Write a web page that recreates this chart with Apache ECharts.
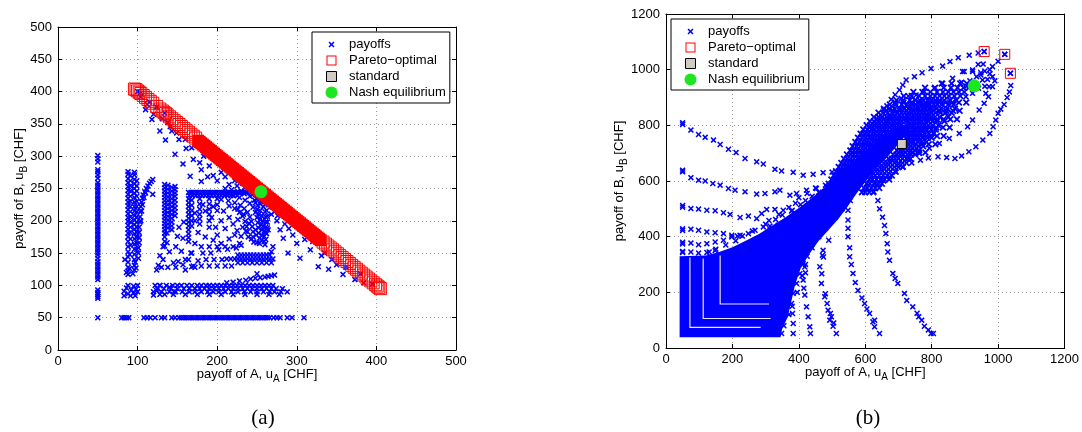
<!DOCTYPE html>
<html><head><meta charset="utf-8">
<script src="https://cdn.jsdelivr.net/npm/echarts/dist/echarts.min.js"></script>
<style>html,body{margin:0;padding:0;background:#fff}#c{width:1082px;height:432px}</style>
</head><body><div id="c"></div>
<script>
const FONT = '"Liberation Sans", Arial, Helvetica, sans-serif';
const BLUE = '#0000ff', RED = '#ff0000', GREEN = '#1ee61e', GREY = '#d0ccc4';

// ---- axes / labels ----
const A_X_TICKS = [0, 100, 200, 300, 400, 500];
const A_Y_TICKS = [0, 50, 100, 150, 200, 250, 300, 350, 400, 450, 500];
const B_X_TICKS = [0, 200, 400, 600, 800, 1000, 1200];
const B_Y_TICKS = [0, 200, 400, 600, 800, 1000, 1200];
const LEGEND_NAMES = ['payoffs', 'Pareto\u2212optimal', 'standard', 'Nash equilibrium'];
const X_NAME = 'payoff of A, u{s|A} [CHF]';
const Y_NAME = 'payoff of B, u{s|B} [CHF]';
const CAPTIONS = ['(a)', '(b)'];

// ---- panel (a) payoffs ----
const A_COL50_Y = [301,296,291,279,276,271,266,259,255,251,247,243,239,235,231,227,223,219,215,211,207,203,199,195,191,187,183,179,175,171,167,163,159,155,151,147,142,137,133,129,125,121,117,113,109,93,89,86,83,80,50];
const A_ROW50_X = [80,83,86,89,108,112,116,122,130,134,143,147,152,155,158,161,164,167,170,173,176,179,182,185,188,191,194,197,200,203,206,209,212,215,218,221,224,227,230,233,236,239,242,245,248,251,254,257,260,263,266,271,275,279,288,294,309];
const A_COL88_Y = [276,272,265,259,253,247,241,235,229,223,217,211,205,199,193,187,181,175,168,160,152,144,136,128,122,117];
const A_COL91_Y = [270,262,254,246,238,230,222,214,206,198,190,182,172,162];
const A_COL96_Y = [275,271,264,257,250,243,236,229,222,215,208,201,194,187,180,172,164,156,148,140,131,124];
const A_COL99_Y = [262,254,246,238,230,222,214,206,198,190,182,174,165,156];
const A_CURVE = [[101,142],[101,150],[101,158],[102,166],[102,174],[102,182],[102,190],[103,198],[103,206],[103,214],[104,222],[105,229],[106,235],[107,240],[109,245],[111,250],[113,254],[115,258],[117,261],[119,264],[104,200],[105,215],[106,225],[108,236],[110,243],[112,248],[119,241]];
const A_LOW_LEFT = [[83,84],[83,91],[86,96],[88,87],[88,100],[91,84],[92,93],[95,88],[95,99],[97,84],[98,94],[100,90],[100,100],[86,120],[90,126],[94,118],[98,127],[84,140],[90,148],[97,136]];
const A_COL134_Y = [256,251,246,241,236,231,226,221,216,211,206,201,196,191,186,181,175,168,161];
const A_COL138_Y = [255,249,243,237,231,225,219,213,207,201,195,189];
const A_COL143_Y = [252,246,240,234,228,222,216,210,204,198,192,186];
const A_COL147_Y = [253,248,243,238,232,226,220,214,208];
const A_SCATTER_MID = [[128,146],[124,124],[132,140],[132,160],[137,166],[137,181],[145,135],[151,137],[157,132],[157,173],[155,153],[164,140],[168,129],[167,150],[126,131],[130,128],[140,152],[148,160],[150,176],[152,190],[158,198],[148,128],[160,124],[172,128],[138,128],[120,85],[124,92],[128,100],[134,86],[140,97],[146,90]];
const A_ARC_TOP_X = [164,167,170,173,176,179,182,185,188,191,194,197,200,203,206,209,212,215,218,221,224,227,230,233,236];
const A_ARC_TOP2_X = [165,169,173,177,181,185,189,193,197,201,205,209,213,217,221,225];
const A_COL164_Y = [234,228,222,216,210,204,198,192,186,180,174,168];
const A_COL168_Y = [232,224,216,208,200,192];
const A_COL178_Y = [234,226,218,210,203];
const A_COL190_Y = [234,226,218,210,200,190];
const A_COL200_Y = [234,225,216];
const A_HOOK = [[210,250],[218,248],[226,245],[234,242],[241,238],[247,232],[251,224],[254,216],[256,208],[257,200],[258,192],[259,184],[259,176],[259,168],
 [212,241],[220,239],[228,236],[235,232],[241,227],[245,221],[248,213],[250,205],[251,197],[252,189],[252,181],[253,173],[253,165],
 [205,233],[214,231],[222,228],[229,224],[234,219],[238,213],[241,206],[243,199],[244,191],[245,183],[245,175],[246,167],
 [215,223],[222,219],[228,213],[232,207],[235,199],[237,191],[238,183],[239,175],
 [215,256],[225,254],[235,251],[243,247],[250,241],[256,233],[260,225],[262,216],[263,207],[263,198],[263,189],[262,180],[261,171],[260,163],
 [222,262],[232,258],[240,254],[248,250],[255,243],[262,236],[266,230],[268,222],[272,214],[276,208]];
const A_HOOK2 = [[255,230],[258,222],[260,214],[261,206],[261,198],[261,190],[261,182],[257,240],[252,236],[248,228],[250,218],[252,210],[254,202],[255,194],[256,186],[256,178],[256,170],[250,166],[243,172],[236,184],[240,196],[233,210],[226,218],[248,186],[249,178],[230,246],[238,244],[244,240],[250,234],[254,226]];
const A_ARC_INNER = [[172,200],[178,195],[185,215],[193,205],[198,190],[205,200],[210,188],[215,205],[220,195],[225,185],[185,175],[195,170],[205,165],[215,172],[222,178],[228,165],[180,160],[190,160],[200,160],[210,160],[220,160],[230,162],[172,165],[176,182],[200,178],[182,225],[195,222],[208,215],[172,212],[226,202],[232,190],[230,176]];
const A_ROW147_X = [226,230,234,238,242,246,250,254,258,262,266];
const A_ROW141_X = [212,217,222,226,230,234,238,242,246,250,254,258,262,266,270];
const A_ROW135_X = [226,232,238,244,250,256,262,268];
const A_SCATTER130 = [[170,130],[180,130],[190,130],[200,130],[210,130],[176,138],[186,140],[196,140],[206,140],[168,150],[182,150],[192,150],[202,155],[213,156],[224,158],[268,152],[218,130],[160,140]];
const A_RISE = [[212,104],[220,105],[228,107],[236,108],[242,110],[248,111],[254,112],[260,113],[264,114],[268,115],[272,116],[250,118]];
const A_ROW100_X = [122,128,136,144,150,155,162,168,175,180,186,190,195,200,205,210,215,220,225,230,235,240,245,250,255,260,265,270];
const A_ROW95_X = [125,133,142,150,158,165,172,178,184,190,196,202,208,214,220,226,232,238,244,250,256,262,268,274,282];
const A_ROW90_X = [120,130,140,148,156,165,172,180,188,195,202,210,218,226,234,242,250,258,266,272,280,288];
const A_ROW86_X = [128,145,160,175,190,205,220,235,250,265,278];
const A_DIAG_UL = [[100,400],[103,397],[110,372],[118,357],[128,339],[135,325],[147,303],[157,288],[166,269],[180,261],[178,290],[168,313],[160,326],[149,336],[141,346],[134,367],[143,339],[152,326],[161,312],[170,295],[180,279],[190,285],[195,270],[183,300],[200,262],[205,275],[188,268],[210,268],[124,376],[104,392],[115,384],[131,358],[138,352],[120,365],[112,380]];
const A_DIAG_LR = [[264,186],[270,160],[279,186],[283,173],[289,150],[295,178],[300,165],[304,142],[310,171],[317,155],[327,129],[331,146],[340,125],[344,140],[358,117],[373,109],[384,104],[275,200],[285,195],[268,210],[278,215],[290,188],[350,132],[362,128],[320,168],[335,150],[380,118],[395,102]];

// ---- panel (a) other series ----
const A_PARETO_ENDS = [[96,404],[98,403],[100,401],[102,399],[104,397],[107,394],[110,391],[113,388],[116,385],[119,382],[124,377],[128,373],[131,370],[133,368],[135,366],[137,364],[140,361],[143,358],[146,355],[149,352],[152,349],[155,346],[158,343],[161,340],[164,337],[167,334],[170,331],[173,328],
 [333,167],[336,164],[339,161],[342,158],[345,155],[348,152],[351,149],[354,146],[357,143],[360,140],[363,137],[366,134],[369,131],[372,128],[375,125],[378,122],[381,119],[384,116],[387,113],[390,110],[393,107],[396,104],[399,101],[401,99],[403,97],[405,95]];
const A_PARETO_BAND = [[176,324],[178,322],[180,320],[182,318],[184,316],[186,314],[188,312],[190,310],[192,308],[194,306],[196,304],[198,302],[200,300],[202,298],[204,296],[206,294],[208,292],[210,290],[212,288],[214,286],[216,284],[218,282],[220,280],[222,278],[224,276],[226,274],[228,272],[230,270],[232,268],[234,266],[236,264],[238,262],[240,260],[242,258],[244,256],[246,254],[248,252],[250,250],[252,248],[254,246],[256,244],[258,242],[260,240],[262,238],[264,236],[266,234],[268,232],[270,230],[272,228],[274,226],[276,224],[278,222],[280,220],[282,218],[284,216],[286,214],[288,212],[290,210],[292,208],[294,206],[296,204],[298,202],[300,200],[302,198],[304,196],[306,194],[308,192],[310,190],[312,188],[314,186],[316,184],[318,182],[320,180],[322,178],[324,176],[326,174],[328,172],[330,170]];
const A_STANDARD = [[250,250]];
const A_NASH = [[255,245]];

// ---- panel (b) payoffs ----
const B_CORE = [[41,39],[41,330],[120,332],[160,345],[200,362],[240,385],[280,410],[320,440],[360,470],[400,503],[440,540],[480,580],[520,620],[560,662],[600,705],[640,745],[680,778],[715,802],[740,808],[735,785],[715,755],[692,722],[668,688],[640,652],[612,614],[588,578],[568,545],[545,505],[520,465],[490,425],[460,385],[430,335],[405,285],[388,225],[376,160],[366,110],[350,70],[345,39]];
const B_GAPS = [
  [[72,325],[72,74],[285,74]],
  [[112,322],[112,106],[315,106]],
  [[163,332],[163,158],[310,158]]
];
const B_TRAIL_808 = [[50,809],[50,803],[75,783],[98,767],[118,757],[143,747],[163,731],[188,714],[211,702],[238,681],[273,669],[293,661],[328,642],[348,636],[383,631],[413,621],[443,624],[473,630],[500,632],[520,630]];
const B_TRAIL_637 = [[50,639],[50,633],[75,612],[98,603],[118,600],[141,591],[163,585],[188,573],[208,567],[238,561],[273,553],[298,555],[328,561],[343,567],[373,549],[393,555],[423,567],[453,573],[480,585]];
const B_TRAIL_510 = [[50,512],[50,506],[75,501],[98,499],[123,495],[148,493],[173,486],[193,480],[223,469],[248,474],[273,465],[288,483],[303,498],[328,498],[353,495],[378,492],[403,483],[420,490]];
const B_TRAIL_425 = [[50,428],[50,422],[75,427],[98,423],[123,417],[148,414],[173,411],[198,405],[223,405],[248,411],[268,423],[293,435],[313,438],[338,441],[363,447]];
const B_TRAIL_378 = [[50,380],[50,374],[75,377],[98,371],[123,375],[148,381],[173,387],[198,399],[215,402]];
const B_TRAIL_345 = [[50,347],[50,343],[75,345],[98,341],[123,343],[148,350]];
const B_TRAIL_L1 = [[413,303],[403,267],[393,232],[383,196],[378,160],[381,124],[383,88],[383,52],[363,243],[358,208],[353,172],[348,130],[348,94],[348,52],[403,315]];
const B_TRAIL_L2 = [[418,291],[413,244],[418,190],[423,148],[428,112],[433,76],[435,52],[425,330],[420,270],[415,215]];
const B_TRAIL_L3 = [[473,351],[471,333],[463,292],[468,232],[478,184],[488,136],[493,100],[503,78],[513,52],[490,387],[474,327],[469,267],[480,195],[495,124],[505,90],[498,112],[485,160]];
const B_TRAIL_L4 = [[543,532],[548,495],[548,460],[548,430],[548,400],[553,360],[553,328],[558,300],[563,268],[570,235],[578,207],[590,180],[598,160],[605,140],[613,124],[623,94],[628,76],[643,52],[628,100]];
const B_TRAIL_L5 = [[626,561],[638,530],[643,500],[652,470],[658,440],[662,411],[666,375],[668,345],[673,315],[683,268],[690,250],[698,232],[718,196],[725,171],[743,148],[756,125],[761,112],[770,100],[778,78],[790,65],[798,52],[805,52]];
const B_TRAIL_U1 = [[640,830],[655,855],[665,870],[678,893],[690,910],[703,927],[713,945],[723,963],[748,975],[771,989],[798,1004],[833,1013],[855,1029],[880,1043],[913,1052],[940,1060],[958,1065]];
const B_TRAIL_U2 = [[630,800],[650,830],[690,880],[708,897],[730,905],[753,909],[778,921],[808,933],[833,951],[863,969],[893,993],[923,999],[948,981],[975,1000],[983,1011],[1000,1030],[1020,1055]];
const B_TRAIL_U3 = [[636,585],[655,600],[673,615],[693,632],[714,651],[740,665],[766,675],[790,683],[819,687],[845,684],[870,681],[890,690],[912,705],[933,723],[954,747],[975,771],[985,795],[993,819],[1000,843],[1008,858],[1018,875],[1027,900],[1034,920],[1038,943],[1037,987]];
const B_TRAIL_U4 = [[700,660],[730,680],[763,699],[793,718],[823,735],[853,753],[883,771],[908,795],[923,819],[943,855],[958,879],[971,903],[983,939],[983,975],[990,960]];
const B_NEAR_NASH = [[940,1019],[948,989],[953,963],[941,933],[923,993],[898,993],[973,939],[963,915],[923,915],[903,903],[960,995],[955,1020],[935,975],[915,960],[890,955],[905,940],[960,940],[968,965],[975,985]];
const B_FUZZ = [[300,445],[330,462],[350,478],[380,495],[405,515],[420,530],[440,545],[460,560],[390,520],[370,505],[340,480],[310,458],[260,420],[230,402],[210,385],[180,370],[150,355],[130,345],[400,540],[425,555],[450,575],
 [440,360],[460,400],[480,430],[510,470],[530,500],[555,530],[420,300],[410,260],[395,200],[380,150],[370,120],[355,80]];
const B_CLOUD_Y = [560,575,590,605,620,635,650,665,680,695,710,725,740,755,770,785,800,815,830,845,860,875,890,905,920,935,950];
const B_CLOUD_X = [
 [478,590,600,612,624],
 [486,496,596,606,618,630,642],
 [490,500,508,604,614,626,638,650],
 [498,507,515,612,622,634,646,658,672],
 [505,514,522,530,620,630,642,654,666,680],
 [512,522,530,538,546,632,642,652,664,676,690],
 [520,530,540,548,556,644,654,664,676,688,700,712],
 [528,538,548,558,566,656,666,676,688,700,712,724],
 [536,546,556,566,576,584,670,680,690,700,712,724,736],
 [545,556,566,576,586,594,684,694,704,714,726,738,750],
 [555,566,576,586,596,606,696,706,716,726,738,750,762],
 [562,574,585,596,606,616,626,708,716,726,736,748,760,774],
 [570,582,594,604,614,624,634,642,718,726,736,746,758,770,784],
 [578,590,602,612,622,632,642,650,658,724,732,742,752,762,774,788,800],
 [586,598,610,620,630,640,650,660,668,676,728,736,746,756,766,778,792,806],
 [594,606,618,628,638,648,658,668,678,688,696,732,742,752,762,772,784,798,812],
 [604,616,628,638,648,658,668,678,688,698,708,738,748,758,768,778,790,804,820],
 [614,626,638,650,660,670,680,690,700,710,720,730,740,750,760,770,780,790,802,816,838],
 [626,640,652,664,676,688,698,708,718,728,738,748,758,768,778,788,798,810,824,850],
 [640,654,668,682,696,708,720,730,740,750,760,770,780,790,800,812,826,842,860],
 [656,672,688,704,718,730,742,752,762,772,782,792,802,814,828,846,870],
 [674,692,710,726,740,752,764,774,784,794,806,818,832,850,866],
 [694,714,734,750,764,776,788,800,812,824,838,856,874],
 [716,740,762,780,796,810,824,838,852,868,886],
 [745,772,796,816,834,850,866,882,898],
 [780,810,836,858,878,896,912],
 [830,860,886,906,924]
];
const B_CLOUD2_Y = [702,732,762,792,822,852,882];
const B_CLOUD2_X = [
 [560,581,601,621,641,661,700,721,741,761,781],
 [578,598,618,638,658,678,713,731,751,771,791,811],
 [596,616,636,656,676,696,716,736,756,776,796,816,836],
 [614,634,654,674,694,714,734,754,774,794,814,834,854],
 [636,656,676,696,716,736,756,776,796,816,836,856,876],
 [662,684,704,724,744,764,784,804,824,844,864,884],
 [690,715,740,762,782,802,822,842,862,882,904]
];
// ---- panel (b) other series ----
const B_PARETO = [[958,1065],[1020,1055],[1037,987]];
const B_STANDARD = [[710,733]];
const B_NASH = [[928,942]];

// ---------- build ----------
const col = (x, ys) => ys.map(y => [x, y]);
const row = (y, xs) => xs.map(x => [x, y]);
const aPayoffs = [].concat(
  col(50, A_COL50_Y), row(50, A_ROW50_X), col(88, A_COL88_Y), col(91, A_COL91_Y), col(96, A_COL96_Y), col(99, A_COL99_Y),
  A_CURVE, A_LOW_LEFT, col(134, A_COL134_Y), col(138, A_COL138_Y), col(143, A_COL143_Y), col(147, A_COL147_Y), A_SCATTER_MID,
  row(244, A_ARC_TOP_X), row(239, A_ARC_TOP2_X), col(164, A_COL164_Y), col(168, A_COL168_Y), col(178, A_COL178_Y), col(190, A_COL190_Y), col(200, A_COL200_Y),
  A_HOOK, A_HOOK2, A_ARC_INNER, row(147, A_ROW147_X), row(141, A_ROW141_X), row(135, A_ROW135_X), A_SCATTER130, A_RISE,
  row(100, A_ROW100_X), row(95, A_ROW95_X), row(90, A_ROW90_X), row(86, A_ROW86_X), A_DIAG_UL, A_DIAG_LR);
let bCloud = [];
B_CLOUD_Y.forEach((y, i) => { bCloud = bCloud.concat(row(y, B_CLOUD_X[i])); });
B_CLOUD2_Y.forEach((y, i) => { bCloud = bCloud.concat(row(y, B_CLOUD2_X[i])); });
const bPayoffs = [].concat(B_TRAIL_808, B_TRAIL_637, B_TRAIL_510, B_TRAIL_425, B_TRAIL_378, B_TRAIL_345,
  B_TRAIL_L1, B_TRAIL_L2, B_TRAIL_L3, B_TRAIL_L4, B_TRAIL_L5, B_TRAIL_U1, B_TRAIL_U2, B_TRAIL_U3, B_TRAIL_U4,
  B_NEAR_NASH, B_FUZZ, B_PARETO);

const X_SYM = 'path://M0,1.8L1.8,0L5,3.2L8.2,0L10,1.8L6.8,5L10,8.2L8.2,10L5,6.8L1.8,10L0,8.2L3.2,5Z';
const LEG_X = 'path://M0,0L0,0M20,20L20,20M5,6.8L6.8,5L10,8.2L13.2,5L15,6.8L11.8,10L15,13.2L13.2,15L10,11.8L6.8,15L5,13.2L8.2,10Z';
const LEG_RING = 'path://M0,0L0,0M12,12L12,12M1,1L11,1L11,11L1,11ZM2,2L2,10L10,10L10,2Z';
const LEG_SQ = 'path://M0,0L0,0M12,12L12,12M1,1L11,1L11,11L1,11Z';
const LEG_CIRC = 'path://M0,6A6,6,0,1,1,12,6A6,6,0,1,1,0,6Z';

const NAME_STYLE = { fontSize: 13, color: '#000', fontFamily: FONT,
  rich: { s: { fontSize: 10, fontFamily: FONT, color: '#000', padding: [10, 0, 0, 0], verticalAlign: 'bottom' } } };

function mkAxes(grid, ticks, isX, name, nameGap, labelMargin) {
  const min = ticks[0], max = ticks[ticks.length - 1], interval = ticks[1] - ticks[0];
  const line = { show: true, onZero: false, lineStyle: { color: '#000', width: 1 } };
  const tick = { show: true, inside: true, length: 4, lineStyle: { color: '#000', width: 1 } };
  const main = { gridIndex: grid, type: 'value', min, max, interval,
    position: isX ? 'bottom' : 'left', name, nameLocation: 'middle', nameGap, nameMoveOverlap: false, nameTextStyle: NAME_STYLE,
    axisLine: line, axisTick: tick,
    axisLabel: { color: '#000', fontSize: 13, fontFamily: FONT, margin: labelMargin, formatter: v => String(v) },
    splitLine: { show: true, lineStyle: { color: '#9a9a9a', width: 1, type: [1, 3] } } };
  const other = { gridIndex: grid, type: 'value', min, max, interval,
    position: isX ? 'top' : 'right', axisLine: line, axisTick: tick,
    axisLabel: { show: false }, splitLine: { show: false } };
  return [main, other];
}

const legendBase = (left, top) => ({
  orient: 'vertical', left, top, selectedMode: false,
  itemWidth: 25, itemHeight: 12, itemGap: 3, padding: [6, 4, 4, 13],
  borderColor: '#000', borderWidth: 1, backgroundColor: '#fff', borderRadius: 0,
  textStyle: { fontSize: 13, color: '#000', fontFamily: FONT, lineHeight: 13 },
  data: [
    { name: LEGEND_NAMES[0], icon: LEG_X, itemStyle: { color: BLUE, borderWidth: 0 } },
    { name: LEGEND_NAMES[1], icon: LEG_RING, itemStyle: { color: RED, borderWidth: 0 } },
    { name: LEGEND_NAMES[2], icon: LEG_SQ, itemStyle: { color: GREY, borderColor: '#000', borderWidth: 1 } },
    { name: LEGEND_NAMES[3], icon: LEG_CIRC, itemStyle: { color: GREEN, borderWidth: 0 } }
  ]
});

const ax0 = mkAxes(0, A_X_TICKS, true, X_NAME, 14, 5);
const ay0 = mkAxes(0, A_Y_TICKS, false, Y_NAME, 29, 6);
const ax1 = mkAxes(1, B_X_TICKS, true, X_NAME, 14, 5);
const ay1 = mkAxes(1, B_Y_TICKS, false, Y_NAME, 37, 6);

const option = {
  animation: false,
  backgroundColor: '#fff',
  grid: [
    { left: 58, top: 27, width: 398, height: 323 },
    { left: 666, top: 14, width: 400, height: 334 }
  ],
  xAxis: [ax0[0], ax0[1], ax1[0], ax1[1]],
  yAxis: [ay0[0], ay0[1], ay1[0], ay1[1]],
  legend: [legendBase(312, 32), legendBase(671, 19)],
  graphic: [
    { type: 'text', x: 263, y: 418, style: { text: CAPTIONS[0], font: '21px "Liberation Serif", "Times New Roman", serif', fill: '#000', align: 'center', verticalAlign: 'middle', textAlign: 'center', textVerticalAlign: 'middle' } },
    { type: 'text', x: 868, y: 418, style: { text: CAPTIONS[1], font: '21px "Liberation Serif", "Times New Roman", serif', fill: '#000', align: 'center', verticalAlign: 'middle', textAlign: 'center', textVerticalAlign: 'middle' } }
  ],
  series: [
    { type: 'scatter', name: LEGEND_NAMES[0], xAxisIndex: 0, yAxisIndex: 0, data: aPayoffs, symbol: X_SYM, symbolSize: 6, itemStyle: { color: BLUE, opacity: 1 }, silent: true },
    { type: 'scatter', name: LEGEND_NAMES[2], xAxisIndex: 0, yAxisIndex: 0, data: A_STANDARD, symbol: 'rect', symbolSize: 9, itemStyle: { color: GREY, borderColor: '#000', borderWidth: 1, opacity: 1 }, silent: true },
    { type: 'scatter', name: LEGEND_NAMES[1], xAxisIndex: 0, yAxisIndex: 0, data: A_PARETO_ENDS, symbol: 'rect', symbolSize: 12, itemStyle: { color: 'rgba(255,255,255,0)', borderColor: RED, borderWidth: 1, opacity: 1 }, silent: true },
    { type: 'scatter', name: LEGEND_NAMES[1], xAxisIndex: 0, yAxisIndex: 0, data: A_PARETO_BAND, symbol: 'rect', symbolSize: 12, itemStyle: { color: RED, opacity: 1 }, silent: true },
    { type: 'scatter', name: LEGEND_NAMES[3], xAxisIndex: 0, yAxisIndex: 0, data: A_NASH, symbol: 'circle', symbolSize: 13, itemStyle: { color: GREEN, opacity: 1 }, silent: true },
    { type: 'custom', name: LEGEND_NAMES[0], xAxisIndex: 2, yAxisIndex: 2, data: B_CORE, encode: { x: 0, y: 1 }, silent: true,
      renderItem: function (params, api) {
        if (params.dataIndex !== 0) return null;
        const pts = B_CORE.map(p => api.coord(p));
        return { type: 'polygon', shape: { points: pts }, style: { fill: BLUE } };
      } },
    { type: 'custom', name: 'gaps', xAxisIndex: 2, yAxisIndex: 2, data: B_GAPS.map((g, i) => [g[0][0], g[0][1], i]), encode: { x: 0, y: 1 }, silent: true,
      renderItem: function (params, api) {
        const g = B_GAPS[params.dataIndex];
        return { type: 'polyline', shape: { points: g.map(p => api.coord(p)) }, style: { stroke: 'rgba(255,255,255,0.9)', lineWidth: 1.2, fill: null } };
      } },
    { type: 'scatter', name: LEGEND_NAMES[0], xAxisIndex: 2, yAxisIndex: 2, data: bCloud, symbol: X_SYM, symbolSize: 7, itemStyle: { color: BLUE, opacity: 1 }, silent: true },
    { type: 'scatter', name: LEGEND_NAMES[0], xAxisIndex: 2, yAxisIndex: 2, data: bPayoffs, symbol: X_SYM, symbolSize: 6, itemStyle: { color: BLUE, opacity: 1 }, silent: true },
    { type: 'scatter', name: LEGEND_NAMES[1], xAxisIndex: 2, yAxisIndex: 2, data: B_PARETO, symbol: 'rect', symbolSize: 10, itemStyle: { color: 'rgba(255,255,255,0)', borderColor: RED, borderWidth: 1, opacity: 1 }, silent: true },
    { type: 'scatter', name: LEGEND_NAMES[2], xAxisIndex: 2, yAxisIndex: 2, data: B_STANDARD, symbol: 'rect', symbolSize: 9, itemStyle: { color: GREY, borderColor: '#000', borderWidth: 1, opacity: 1 }, silent: true },
    { type: 'scatter', name: LEGEND_NAMES[3], xAxisIndex: 2, yAxisIndex: 2, data: B_NASH, symbol: 'circle', symbolSize: 13, itemStyle: { color: GREEN, opacity: 1 }, silent: true }
  ]
};
const chart = echarts.init(document.getElementById('c'), null, { renderer: 'canvas' });
chart.setOption(option);
</script></body></html>
